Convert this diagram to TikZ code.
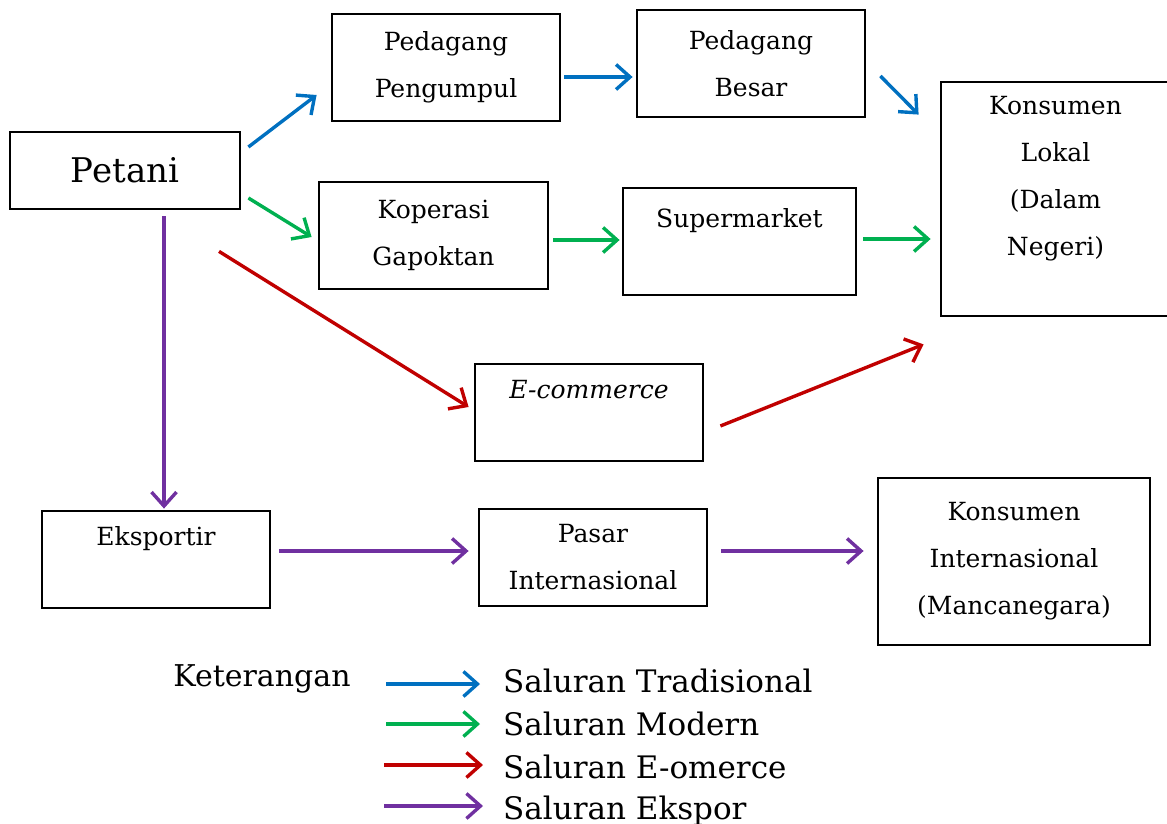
\documentclass[tikz,border=0pt]{standalone}
\usepackage{fontspec}
\setmainfont{DejaVu Serif}
\usepackage{xcolor}
\usepackage{tikz}
\usetikzlibrary{positioning, arrows.meta, calc}

\definecolor{tradblue}{RGB}{0,112,192}
\definecolor{modgreen}{RGB}{0,176,80}
\definecolor{ecred}{RGB}{192,0,0}
\definecolor{expurple}{RGB}{112,48,160}

\begin{document}
\begin{tikzpicture}[
  x=1pt, y=-1pt,
  box/.style={
    rectangle, draw, line width=2.8pt, inner sep=0pt, align=center,
    minimum width=228pt, minimum height=107pt,
    font=\fontsize{25}{47}\selectfont
  },
  legtext/.style={anchor=west, inner sep=0pt, font=\fontsize{31}{36}\selectfont,
    text height=23pt, text depth=0pt},
  arrow/.style={line width=3.4pt, -{Straight Barb[length=14pt, width=25pt]}},
  trad/.style={arrow, tradblue},
  modern/.style={arrow, modgreen},
  ecom/.style={arrow, ecred},
  ekspor/.style={arrow, expurple}
]
\useasboundingbox (0,0) rectangle (1167,824);

% ==================== NODES ====================
% Petani
\node[box, minimum width=230pt, minimum height=77pt, font=\fontsize{34}{40}\selectfont] (petani) at (125,170.5) {Petani};

% Saluran tradisional
\node[box] (pengumpul) at (446,67.5) {Pedagang\\Pengumpul};
\node[box] (besar) at (751,63.5) {Pedagang\\Besar};

% Konsumen lokal
\node[box, minimum width=229pt, minimum height=234pt] (lokal) at (1055.5,199) {Konsumen\\Lokal\\(Dalam\\Negeri)\\ \mbox{}};

% Saluran modern
\node[box, minimum width=229pt] (koperasi) at (433.5,235.5) {Koperasi\\Gapoktan};
\node[box, minimum width=233pt] (supermarket) at (739.5,241.5) {Supermarket\\ \mbox{}};

% E-commerce
\node[box, minimum height=97pt] (ecommerce) at (589,412.5) {\itshape E-commerce\\ \mbox{}};

% Saluran ekspor
\node[box, minimum height=97pt] (eksportir) at (156,559.5) {Eksportir\\ \mbox{}};
\node[box, minimum height=97pt] (pasar) at (593,557.5) {Pasar\\Internasional};
\node[box, minimum width=272pt, minimum height=167pt] (konsint) at (1014,561.5) {Konsumen\\Internasional\\(Mancanegara)};

% Keterangan
\node[font=\fontsize{30}{36}\selectfont, inner sep=0pt] (ket) at (262,679) {Keterangan};
\node[legtext] (lab1) at (503,681) {Saluran Tradisional};
\node[legtext] (lab2) at (503,724) {Saluran Modern};
\node[legtext] (lab3) at (503,767) {Saluran E-omerce};
\node[legtext] (lab4) at (503,808) {Saluran Ekspor};

% ==================== CONNECTIONS ====================
% Tradisional
\draw[trad] ($(petani.east)+(7,-23.5)$) -- ($(pengumpul.west)+(-14,27.5)$);
\draw[trad] ($(pengumpul.east)+(3,9.5)$) -- ($(besar.west)+(-3,13.5)$);
\draw[trad] ($(besar.east)+(14,12.5)$) -- ($(lokal.north west)+(-21,34)$);

% Modern
\draw[modern] ($(petani.east)+(7,27.5)$) -- ($(koperasi.west)+(-6,1.5)$);
\draw[modern] ($(koperasi.east)+(4,4.5)$) -- ($(supermarket.west)+(-2,-1.5)$);
\draw[modern] ($(supermarket.east)+(6,-2.5)$) -- ($(lokal.west)+(-9,40)$);

% E-commerce
\draw[ecom] ($(petani.south)+(94,41)$) -- ($(ecommerce.west)+(-5,-5.5)$);
\draw[ecom] ($(ecommerce.east)+(16,13.5)$) -- ($(lokal.south west)+(-16,27)$);

% Ekspor
\draw[ekspor] ($(petani.south)+(39,6)$) -- ($(eksportir.north)+(8,-1)$);
\draw[ekspor] ($(eksportir.east)+(8,-8.5)$) -- ($(pasar.west)+(-9,-6.5)$);
\draw[ekspor] ($(pasar.east)+(13,-6.5)$) -- ($(konsint.west)+(-13,-10.5)$);

% Legend arrows
\coordinate (lg1) at (386,684);
\coordinate (lg2) at (386,724);
\coordinate (lg3) at (384,765);
\coordinate (lg4) at (384,806);
\draw[trad, shorten >=23pt] (lg1) -- (lg1 -| lab1.west);
\draw[modern, shorten >=23pt] (lg2) -- (lg2 -| lab2.west);
\draw[ecom, shorten >=20pt] (lg3) -- (lg3 -| lab3.west);
\draw[ekspor, shorten >=20pt] (lg4) -- (lg4 -| lab4.west);
\end{tikzpicture}
\end{document}
